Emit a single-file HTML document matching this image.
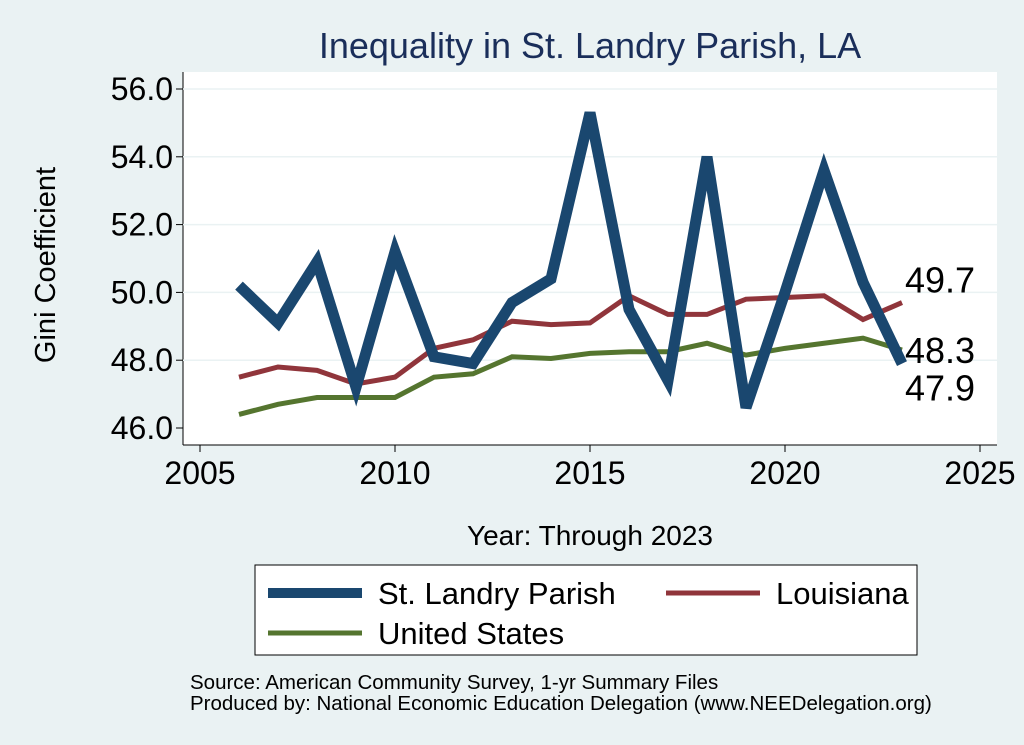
<!DOCTYPE html>
<html><head><meta charset="utf-8"><style>
body{margin:0;background:#eaf2f3;font-family:"Liberation Sans",sans-serif}
svg{display:block}
</style></head><body>
<svg width="1024" height="745">
<rect x="0" y="0" width="1024" height="745" fill="#eaf2f3"/>
<rect x="183" y="72" width="814" height="373" fill="#fff"/>
<text x="590" y="58" text-anchor="middle" font-size="36" fill="#1a2e5a">Inequality in St. Landry Parish, LA</text>
<g id="axes"></g>
<g id="series"></g>
<text transform="translate(55,265) rotate(-90)" text-anchor="middle" font-size="29" fill="#000">Gini Coefficient</text>
<text x="590" y="545" text-anchor="middle" font-size="28" fill="#000">Year: Through 2023</text>
<g>
<rect x="255" y="565" width="662" height="90" fill="#fff" stroke="#000" stroke-width="1"/>
<line x1="268" y1="593" x2="362" y2="593" stroke="#1a476f" stroke-width="10"/>
<text x="378" y="604" font-size="31">St. Landry Parish</text>
<line x1="666" y1="593" x2="760" y2="593" stroke="#90353b" stroke-width="5"/>
<text x="776" y="604" font-size="31">Louisiana</text>
<line x1="268" y1="633" x2="362" y2="633" stroke="#55752f" stroke-width="5"/>
<text x="378" y="644" font-size="31">United States</text>
</g>
<text x="190" y="689" font-size="20.5">Source: American Community Survey, 1-yr Summary Files</text>
<text x="190" y="710" font-size="20.5">Produced by: National Economic Education Delegation (www.NEEDelegation.org)</text>
</svg>
<script>
const years=[2006,2007,2008,2009,2010,2011,2012,2013,2014,2015,2016,2017,2018,2019,2020,2021,2022,2023];
const stLandry=[50.2,49.1,50.9,47.2,51.2,48.1,47.9,49.7,50.4,55.3,49.5,47.4,54.0,46.6,50.0,53.6,50.3,47.9];
const louisiana=[47.5,47.8,47.7,47.3,47.5,48.35,48.6,49.15,49.05,49.1,49.9,49.35,49.35,49.8,49.85,49.9,49.2,49.7];
const usa=[46.4,46.7,46.9,46.9,46.9,47.5,47.6,48.1,48.05,48.2,48.25,48.25,48.5,48.15,48.35,48.5,48.65,48.3];
const yTicks=[46,48,50,52,54,56];
const xTicks=[2005,2010,2015,2020,2025];
const NS="http://www.w3.org/2000/svg";
const xs=y=>200+(y-2005)*39;
const ys=v=>89+(56-v)*33.9;
function mk(t,a,p){const e=document.createElementNS(NS,t);for(const k in a)e.setAttribute(k,a[k]);p.appendChild(e);return e;}
const ax=document.getElementById('axes');
mk('line',{x1:183,y1:72,x2:183,y2:445,stroke:'#000'},ax);
mk('line',{x1:183,y1:445,x2:997,y2:445,stroke:'#000'},ax);
yTicks.forEach(v=>{
 if(v>46)mk('line',{x1:183,y1:ys(v),x2:997,y2:ys(v),stroke:'#eaf2f3','stroke-width':1.5},ax);
 mk('line',{x1:176,y1:ys(v),x2:183,y2:ys(v),stroke:'#000'},ax);
 const t=mk('text',{x:173,y:ys(v)+11,'text-anchor':'end','font-size':32},ax);t.textContent=v.toFixed(1);
 
 
});
xTicks.forEach(y=>{
 mk('line',{x1:xs(y),y1:445,x2:xs(y),y2:452,stroke:'#000'},ax);
 const t=mk('text',{x:xs(y),y:484,'text-anchor':'middle','font-size':32},ax);t.textContent=y;
 
 
});
const sg=document.getElementById('series');
function line(d,c,w,name){
 const p=mk('polyline',{points:d.map((v,i)=>xs(years[i])+','+ys(v)).join(' '),fill:'none',stroke:c,'stroke-width':w,'stroke-linejoin':'miter'},sg);
 
 
}
line(usa,'#55752f',5,'line-united-states');
line(louisiana,'#90353b',5,'line-louisiana');
line(stLandry,'#1a476f',11,'line-st-landry');
const n=years.length-1;
[[louisiana[n],-10],[usa[n],13],[stLandry[n],37]].forEach(([v,dy])=>{
 const t=mk('text',{x:xs(years[n])+3,y:ys(v)+dy,'font-size':36},sg);t.textContent=v.toFixed(1);
 
 
});
</script>
</body></html>
